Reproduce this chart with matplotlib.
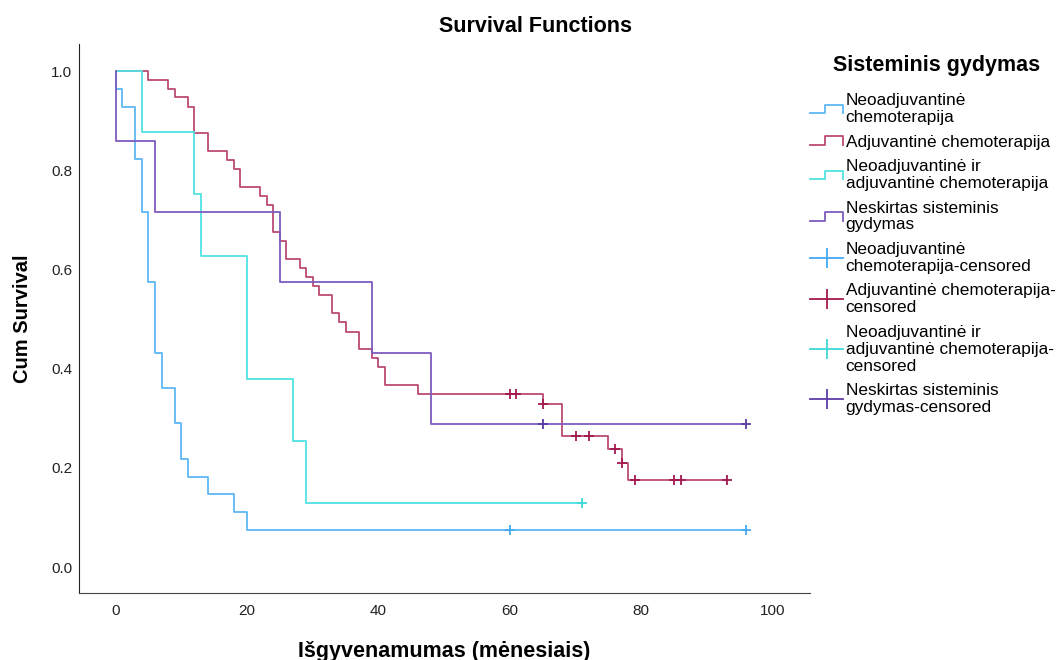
import matplotlib
matplotlib.use('Agg')
import matplotlib.pyplot as plt
from matplotlib.lines import Line2D
from matplotlib.legend_handler import HandlerBase

matplotlib.rcParams['font.family'] = ['Liberation Sans', 'DejaVu Sans']

# Kaplan-Meier kreivės (laikas mėnesiais, išgyvenamumas po įvykio)
neo_t = [0, 0, 1, 3, 4, 5, 6, 7, 9, 10, 11, 14, 18, 20, 96]
neo_s = [1.0, 0.964, 0.929, 0.823, 0.716, 0.575, 0.431, 0.361, 0.290, 0.218, 0.182, 0.147, 0.111, 0.075, 0.075]
neo_cens_t = [60, 96]
neo_cens_s = [0.075, 0.075]

adj_t = [0, 5, 8, 9, 11, 12, 14, 17, 18, 19, 22, 23, 24, 25, 26, 28, 29, 30, 31,
         33, 34, 35, 37, 39, 40, 41, 46, 65, 68, 75, 77, 78, 93]
adj_s = [1.0, 0.982, 0.965, 0.948, 0.928, 0.875, 0.839, 0.821, 0.803, 0.766, 0.748, 0.730,
         0.675, 0.658, 0.622, 0.603, 0.585, 0.566, 0.548, 0.512, 0.494, 0.475, 0.440,
         0.422, 0.404, 0.368, 0.349, 0.329, 0.264, 0.239, 0.209, 0.175, 0.175]
adj_cens_t = [60, 61, 65, 70, 72, 76, 77, 79, 85, 86, 93]
adj_cens_s = [0.349, 0.349, 0.329, 0.264, 0.264, 0.239, 0.209, 0.175, 0.175, 0.175, 0.175]

both_t = [0, 4, 12, 13, 20, 27, 29, 71]
both_s = [1.0, 0.878, 0.752, 0.628, 0.380, 0.254, 0.129, 0.129]
both_cens_t = [71]
both_cens_s = [0.129]

none_t = [0, 0, 6, 25, 39, 48, 96]
none_s = [1.0, 0.860, 0.716, 0.575, 0.431, 0.289, 0.289]
none_cens_t = [65, 96]
none_cens_s = [0.289, 0.289]

names = ['Neoadjuvantinė\nchemoterapija',
         'Adjuvantinė chemoterapija',
         'Neoadjuvantinė ir\nadjuvantinė chemoterapija',
         'Neskirtas sisteminis\ngydymas']
cens_names = ['Neoadjuvantinė\nchemoterapija-censored',
              'Adjuvantinė chemoterapija-\ncensored',
              'Neoadjuvantinė ir\nadjuvantinė chemoterapija-\ncensored',
              'Neskirtas sisteminis\ngydymas-censored']
line_colors = ['#5cb8f6', '#bb4a74', '#52e2e2', '#7d5cbf']
cens_colors = ['#43a9f2', '#a3194f', '#3fd8d8', '#5d3ba6']

curves = [(neo_t, neo_s, neo_cens_t, neo_cens_s),
          (adj_t, adj_s, adj_cens_t, adj_cens_s),
          (both_t, both_s, both_cens_t, both_cens_s),
          (none_t, none_s, none_cens_t, none_cens_s)]


class StepHandler(HandlerBase):
    def create_artists(self, legend, orig_handle, xdescent, ydescent,
                       width, height, fontsize, trans):
        lo = height / 2 - 3
        hi = height / 2 + 3
        xs = [-xdescent, -xdescent + 0.45 * width, -xdescent + 0.45 * width,
              -xdescent + width, -xdescent + width]
        ys = [lo, lo, hi, hi, lo]
        ln = Line2D(xs, ys, color=orig_handle.get_color(), lw=1.3)
        ln.set_transform(trans)
        return [ln]


fig = plt.figure(figsize=(10.58, 6.6), dpi=100)
ax = fig.add_axes([0.0747, 0.101, 0.691, 0.833])

handles = []
labels = []
hmap = {}
for (t, s, ct, cs), c, n in zip(curves, line_colors, names):
    ln, = ax.plot(t, s, drawstyle='steps-post', color=c, lw=1.3)
    handles.append(ln)
    labels.append(n)
    hmap[ln] = StepHandler()
for (t, s, ct, cs), c, n in zip(curves, cens_colors, cens_names):
    ax.plot(ct, cs, linestyle='none', marker='+', ms=7, mew=1.3, color=c)
    proxy = Line2D([], [], color=c, lw=1.3, marker='|', ms=14, mew=1.3)
    handles.append(proxy)
    labels.append(n)

ax.set_xlim(-5.56, 105.7)
ax.set_ylim(-0.053, 1.056)
ax.set_xticks([0, 20, 40, 60, 80, 100])
ax.set_yticks([0.0, 0.2, 0.4, 0.6, 0.8, 1.0])
ax.set_yticklabels(['0.0', '0.2', '0.4', '0.6', '0.8', '1.0'])
ax.tick_params(length=0, labelsize=11, colors='#222222')
ax.tick_params(axis='y', pad=5)
ax.tick_params(axis='x', pad=8)
ax.spines['top'].set_visible(False)
ax.spines['right'].set_visible(False)
ax.spines['left'].set_color('#222222')
ax.spines['bottom'].set_color('#444444')

ax.set_xlabel('Išgyvenamumas (mėnesiais)', fontsize=15.5, fontweight='bold', labelpad=16)
ax.set_ylabel('Cum Survival', fontsize=14.5, fontweight='bold', labelpad=14)
fig.suptitle('Survival Functions', fontsize=15.5, fontweight='bold', x=0.506, y=0.975)

fig.text(0.885, 1 - 66 / 660, 'Sisteminis gydymas', fontsize=15.5, fontweight='bold',
         ha='center', va='center')
leg = fig.legend(handles, labels, handler_map=hmap, loc='upper left',
                 bbox_to_anchor=(0.766, 1 - 93 / 660), frameon=False, fontsize=12.4,
                 handlelength=1.9, handletextpad=0.15, labelspacing=0.56,
                 borderpad=0, borderaxespad=0)
for tx in leg.get_texts():
    tx.set_linespacing(1.15)

fig.savefig('out.png', dpi=100)
